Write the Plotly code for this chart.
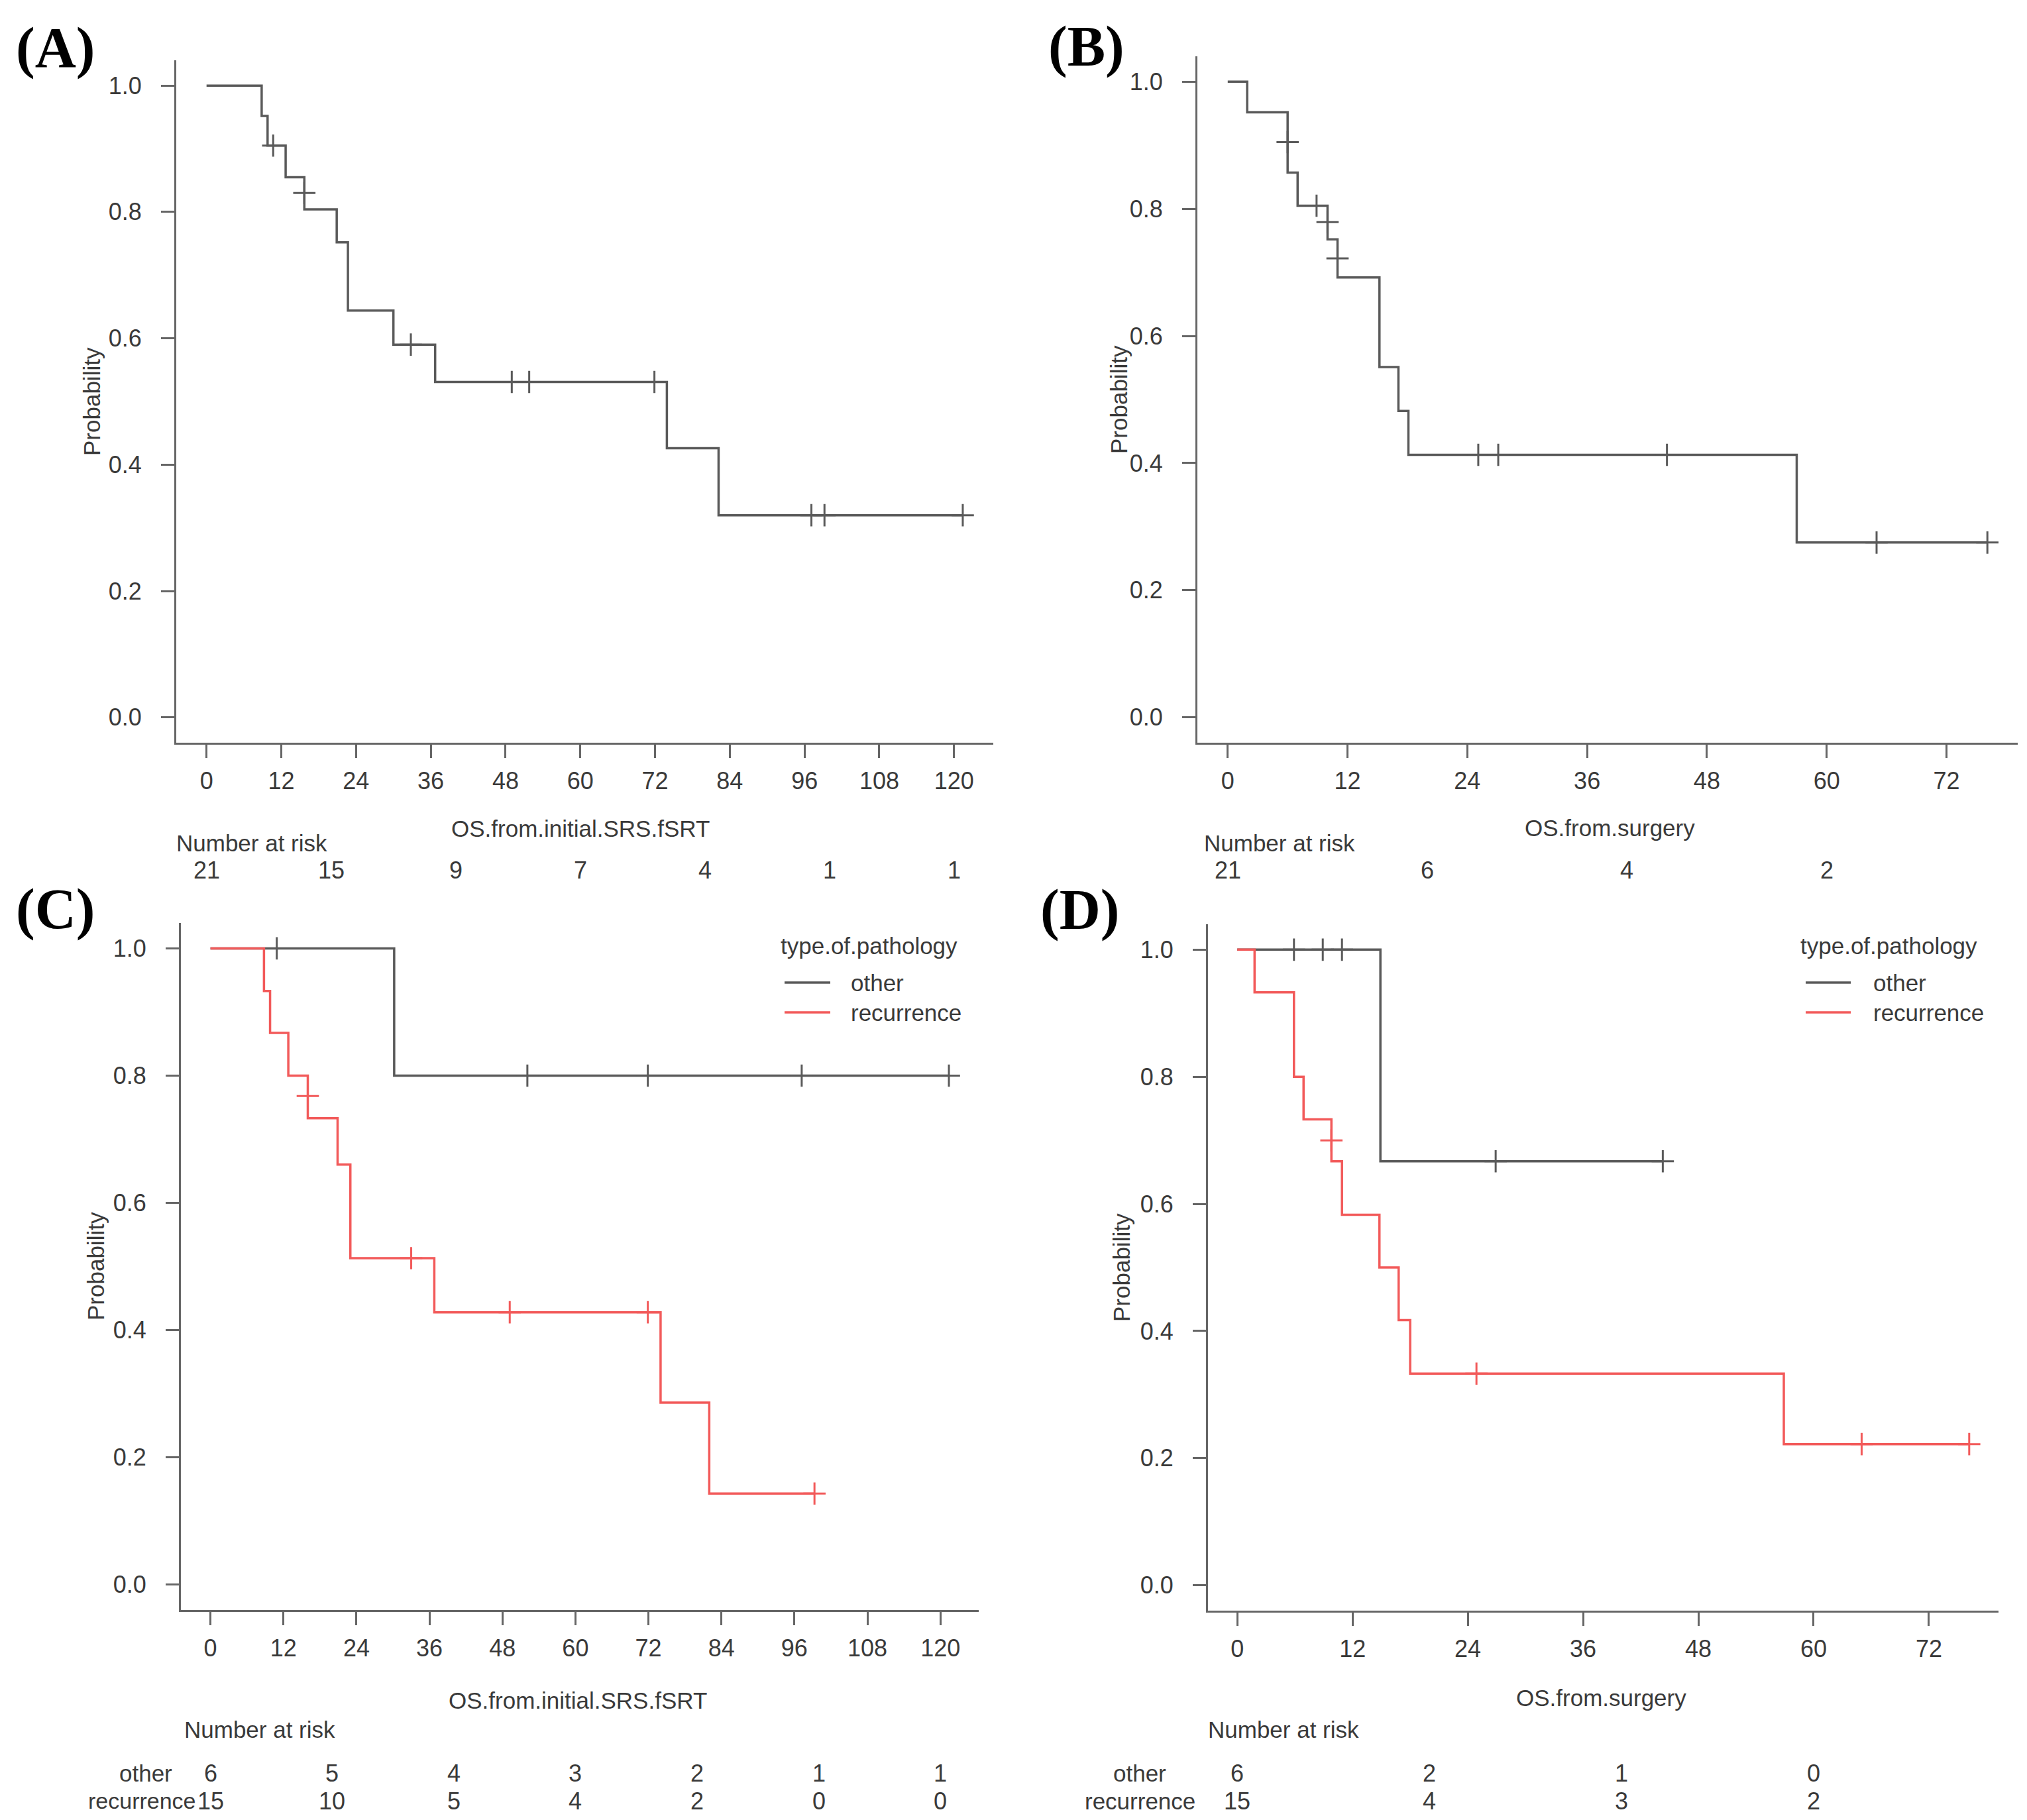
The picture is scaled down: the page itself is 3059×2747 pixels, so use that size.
import plotly.graph_objects as go

W, H = 3059, 2747

# ---- data (months, survival probability) ----
# (A) overall, from initial SRS/fSRT
a_time = [0, 8.85, 9.8, 12.7, 15.7, 20.9, 22.7, 30.0, 36.7, 73.9, 82.2, 121.4]
a_surv = [1.0, 0.952, 0.905, 0.855, 0.804, 0.752, 0.644, 0.590, 0.531, 0.426, 0.320, 0.320]
a_cens_t = [10.7, 15.7, 32.8, 49.0, 51.8, 71.9, 97.1, 99.2, 121.4]
a_cens_s = [0.905, 0.830, 0.590, 0.531, 0.531, 0.531, 0.320, 0.320, 0.320]

# (B) overall, from surgery
b_time = [0, 1.95, 6.0, 7.0, 10.0, 11.0, 15.2, 17.1, 18.1, 57.0, 76.1]
b_surv = [1.0, 0.952, 0.857, 0.805, 0.752, 0.692, 0.551, 0.482, 0.413, 0.275, 0.275]
b_cens_t = [6.0, 8.9, 10.0, 11.0, 25.1, 27.1, 44.0, 65.0, 76.1]
b_cens_s = [0.905, 0.805, 0.779, 0.722, 0.413, 0.413, 0.413, 0.275, 0.275]

# (C) by type of pathology, from initial SRS/fSRT
c_oth_time = [0, 30.2, 121.4]
c_oth_surv = [1.0, 0.8, 0.8]
c_oth_cens_t = [10.9, 52.1, 71.9, 97.2, 121.4]
c_oth_cens_s = [1.0, 0.8, 0.8, 0.8, 0.8]
c_rec_time = [0, 8.8, 9.8, 12.8, 16.0, 20.9, 23.0, 36.8, 74.0, 82.0, 99.3]
c_rec_surv = [1.0, 0.933, 0.867, 0.800, 0.733, 0.660, 0.513, 0.428, 0.286, 0.143, 0.143]
c_rec_cens_t = [16.0, 33.0, 49.2, 71.9, 99.3]
c_rec_cens_s = [0.768, 0.513, 0.428, 0.428, 0.143]

# (D) by type of pathology, from surgery
d_oth_time = [0, 14.9, 44.3]
d_oth_surv = [1.0, 0.667, 0.667]
d_oth_cens_t = [5.9, 8.9, 10.9, 26.9, 44.3]
d_oth_cens_s = [1.0, 1.0, 1.0, 0.667, 0.667]
d_rec_time = [0, 1.8, 5.9, 6.9, 9.8, 10.9, 14.8, 16.8, 18.0, 56.9, 76.2]
d_rec_surv = [1.0, 0.933, 0.800, 0.733, 0.667, 0.583, 0.500, 0.417, 0.333, 0.222, 0.222]
d_rec_cens_t = [9.8, 24.9, 65.0, 76.2]
d_rec_cens_s = [0.700, 0.333, 0.222, 0.222]

# numbers at risk
srs_risk_t = [0, 20, 40, 60, 80, 100, 120]
a_risk = [21, 15, 9, 7, 4, 1, 1]
c_risk_oth = [6, 5, 4, 3, 2, 1, 1]
c_risk_rec = [15, 10, 5, 4, 2, 0, 0]
surg_risk_t = [0, 20, 40, 60]
b_risk = [21, 6, 4, 2]
d_risk_oth = [6, 2, 1, 0]
d_risk_rec = [15, 4, 3, 2]

srs_ticks = list(range(0, 121, 12))
surg_ticks = list(range(0, 73, 12))
prob_ticks = [0.0, 0.2, 0.4, 0.6, 0.8, 1.0]

GREY = "#5a5a5a"
RED = "#f25a5a"
AXC = "#666666"
TXT = "#3a3a3a"
FONT = "Liberation Sans"
FS = 36


def fx(p):
    return p / W


def fy(p):
    return 1 - p / H


fig = go.Figure()


def add_curve(n, t, s, ct, cs, color):
    fig.add_trace(go.Scatter(x=t, y=s, mode="lines", line=dict(color=color, width=3.5, shape="hv"),
                             xaxis="x" + n, yaxis="y" + n, showlegend=False, hoverinfo="skip"))
    fig.add_trace(go.Scatter(x=ct, y=cs, mode="markers",
                             marker=dict(symbol="cross-thin", size=24, line=dict(color=color, width=3)),
                             xaxis="x" + n, yaxis="y" + n, showlegend=False, hoverinfo="skip"))


add_curve("", a_time, a_surv, a_cens_t, a_cens_s, GREY)
add_curve("2", b_time, b_surv, b_cens_t, b_cens_s, GREY)
add_curve("3", c_oth_time, c_oth_surv, c_oth_cens_t, c_oth_cens_s, GREY)
add_curve("3", c_rec_time, c_rec_surv, c_rec_cens_t, c_rec_cens_s, RED)
add_curve("4", d_oth_time, d_oth_surv, d_oth_cens_t, d_oth_cens_s, GREY)
add_curve("4", d_rec_time, d_rec_surv, d_rec_cens_t, d_rec_cens_s, RED)

# panel boxes in pixels: x0, x1, y_top, y_bottom, x range, ticks
panels = {
    "": dict(x=(258, 1491), y=(83, 1113), xr=[-4.86, 126.3], ticks=srs_ticks),
    "2": dict(x=(1799, 3037), y=(77, 1113), xr=[-3.04, 79.14], ticks=surg_ticks),
    "3": dict(x=(265, 1469), y=(1385, 2422), xr=[-4.86, 126.3], ticks=srs_ticks),
    "4": dict(x=(1815, 3008), y=(1387, 2423), xr=[-3.05, 79.25], ticks=surg_ticks),
}

axis_common = dict(showline=True, linecolor=AXC, linewidth=3, ticks="outside", ticklen=20,
                   tickwidth=3, tickcolor=AXC, showgrid=False, zeroline=False, mirror=False,
                   tickfont=dict(family=FONT, size=FS, color=TXT), fixedrange=True)

layout_axes = {}
for n, p in panels.items():
    layout_axes["xaxis" + n] = dict(axis_common, domain=[fx(p["x"][0]), fx(p["x"][1])], range=p["xr"],
                                    tickvals=p["ticks"], anchor="y" + n, ticklabelstandoff=4)
    layout_axes["yaxis" + n] = dict(axis_common, domain=[fy(p["y"][1]), fy(p["y"][0])], range=[-0.04, 1.04],
                                    tickvals=prob_ticks, tickformat=".1f", anchor="x" + n,
                                    ticklabelstandoff=22)

fig.update_layout(width=W, height=H, margin=dict(l=0, r=0, t=0, b=0),
                  paper_bgcolor="white", plot_bgcolor="white", **layout_axes)

ann = []


def text(x, y, s, size=FS, xanchor="center", xref="paper", angle=0, color=TXT, family=FONT):
    ann.append(dict(x=x if xref != "paper" else fx(x), y=fy(y), xref=xref, yref="paper", text=s,
                    showarrow=False, xanchor=xanchor, yanchor="middle", textangle=angle,
                    font=dict(family=family, size=size, color=color)))


# panel letters
for lab, x, y in [("(A)", 14, 64), ("(B)", 1572, 62), ("(C)", 14, 1364), ("(D)", 1560, 1365)]:
    text(x, y, "<b>" + lab + "</b>", size=86, family="Liberation Serif", color="black", xanchor="left")

# y titles
text(131, 598, "Probability", size=35, angle=-90)
text(1680, 595, "Probability", size=35, angle=-90)
text(136, 1903, "Probability", size=35, angle=-90)
text(1684, 1905, "Probability", size=35, angle=-90)

# x titles
text(868, 1242, "OS.from.initial.SRS.fSRT", size=35)
text(2421, 1241, "OS.from.surgery", size=35)
text(864, 2558, "OS.from.initial.SRS.fSRT", size=35)
text(2408, 2554, "OS.from.surgery", size=35)

# number at risk tables
text(256, 1264, "Number at risk", size=35, xanchor="left")
text(1807, 1264, "Number at risk", size=35, xanchor="left")
text(268, 2602, "Number at risk", size=35, xanchor="left")
text(1813, 2602, "Number at risk", size=35, xanchor="left")

for t, v in zip(srs_risk_t, a_risk):
    text(t, 1305, str(v), xref="x")
for t, v in zip(surg_risk_t, b_risk):
    text(t, 1305, str(v), xref="x2")

text(212, 2668, "other", size=35)
text(206, 2710, "recurrence", size=34)
for t, v1, v2 in zip(srs_risk_t, c_risk_oth, c_risk_rec):
    text(t, 2668, str(v1), xref="x3")
    text(t, 2710, str(v2), xref="x3")

text(1712, 2668, "other", size=35)
text(1712, 2710, "recurrence", size=35)
for t, v1, v2 in zip(surg_risk_t, d_risk_oth, d_risk_rec):
    text(t, 2668, str(v1), xref="x4")
    text(t, 2710, str(v2), xref="x4")

# legends of (C) and (D)
shapes = []
for tx, lx0, lx1, txl in [(1303, 1176, 1245, 1274), (2842, 2717, 2785, 2817)]:
    text(tx, 1419, "type.of.pathology", size=35)
    for yy, col, lab in [(1475, GREY, "other"), (1520, RED, "recurrence")]:
        shapes.append(dict(type="line", xref="paper", yref="paper", x0=fx(lx0), x1=fx(lx1),
                           y0=fy(yy), y1=fy(yy), line=dict(color=col, width=3.5)))
        text(txl, yy, lab, size=35, xanchor="left")

fig.update_layout(annotations=ann, shapes=shapes)
fig.write_html("out.html")
